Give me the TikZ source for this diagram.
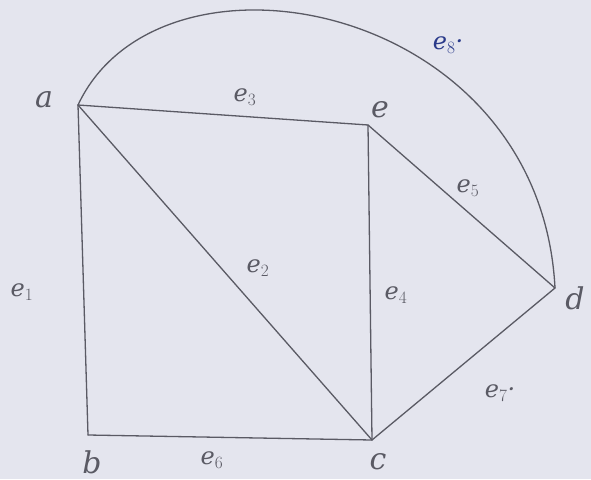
\documentclass[tikz,border=0pt]{standalone}
\usepackage{fontspec}
\setmainfont{DejaVu Serif}
\definecolor{paper}{HTML}{E4E5EE}
\definecolor{pencil}{HTML}{5A5A64}
\definecolor{ink}{HTML}{2A3A8A}
\begin{document}
\begin{tikzpicture}[x=1pt,y=-1pt,
  edge/.style={draw=pencil,line width=1.3pt,line cap=round,line join=round},
  vlab/.style={text=pencil,font=\itshape\fontsize{30}{30}\selectfont,inner sep=0pt},
  elab/.style={text=pencil,font=\itshape\fontsize{24}{24}\selectfont,inner sep=0pt},
  vert/.style={inner sep=0pt,minimum size=0pt}]
\fill[paper] (0,0) rectangle (591,479);
\useasboundingbox (0,0) rectangle (591,479);
% vertices
\coordinate (a) at (78,105);
\coordinate (e) at (368,125);
\coordinate (d) at (555,288);
\coordinate (c) at (372,440);
\coordinate (b) at (88,435);
% edges
\path[edge] (a) -- (b);
\path[edge] (a) -- (c);
\path[edge] (a) -- (e);
\path[edge] (e) -- (c);
\path[edge] (e) -- (d);
\path[edge] (b) -- (c);
\path[edge] (c) -- (d);
\path[edge] (a) .. controls (160,-70) and (540,0) .. (d);
% vertex labels
\node[vlab] (la) at (44,100) {a};
\node[vlab] (le) at (380,110) {e};
\node[vlab] (ld) at (575,298) {d};
\node[vlab] (lc) at (378,462) {c};
\node[vlab] (lb) at (92,462) {b};
% edge labels
\node[elab] (l1) at (22,292) {e$_1$};
\node[elab] (l2) at (258,268) {e$_2$};
\node[elab] (l3) at (245,97) {e$_3$};
\node[elab] (l4) at (396,295) {e$_4$};
\node[elab] (l5) at (468,188) {e$_5$};
\node[elab] (l6) at (212,460) {e$_6$};
\node[elab] (l7) at (500,393) {e$_7$·};
\node[elab,text=ink] (l8) at (448,45) {e$_8$·};
\end{tikzpicture}
\end{document}
